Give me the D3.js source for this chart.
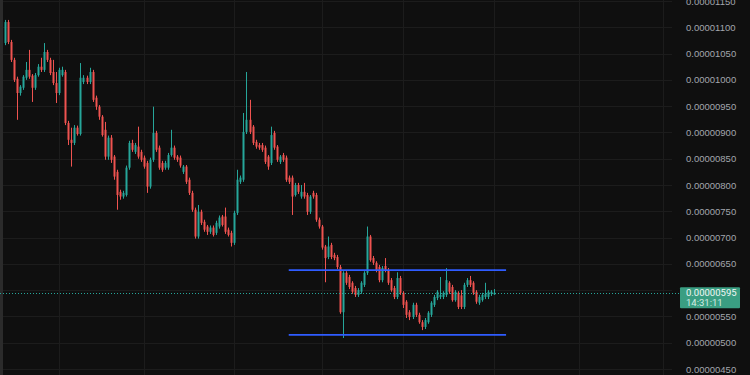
<!DOCTYPE html>
<html>
<head>
<meta charset="utf-8">
<script src="https://cdnjs.cloudflare.com/ajax/libs/d3/7.8.5/d3.min.js"></script>
<style>
  html, body { margin: 0; padding: 0; background: #0f0f0f; }
  svg { display: block; }
</style>
</head>
<body>
<svg id="chart"></svg>
<script>
// prices are in units of 1e-8 (satoshi-like), e.g. 595 -> 0.00000595
const UNIT = 1e-8

const open = [1070,1110,1072,1038,1002,975,985,1004,1019,1008,985,1009,1025,1019,1053,1038,1015,994,975,1009,
  1015,918,886,880,909,897,996,1004,996,1015,966,949,930,905,854,890,854,825,787,778,
  781,833,880,863,873,863,852,842,797,848,899,871,842,833,833,857,871,854,852,825,
  835,810,785,753,702,749,730,721,711,719,709,721,740,740,715,709,690,747,806,810,
  901,924,911,882,876,876,871,854,842,899,873,844,857,852,814,814,781,800,778,787,
  781,749,785,781,734,721,683,663,686,667,663,644,558,633,625,614,604,591,597,610,
  633,702,661,652,644,619,646,638,619,604,587,623,595,578,558,549,572,553,539,530,
  539,553,572,585,587,587,591,614,606,581,595,590,568,610,619,614,597,576,581,587,
  587,593,592]
const close = [1110,1072,1038,1000,975,987,1006,1019,1006,985,1009,1025,1019,1053,1038,1013,994,975,1019,1019,
  918,886,880,909,897,1004,1004,996,1015,962,949,930,895,854,890,848,816,781,778,785,
  833,880,867,876,854,848,835,797,848,899,867,833,829,842,857,871,852,848,837,835,
  806,785,753,702,749,728,715,711,719,705,728,738,724,711,705,690,747,810,814,901,
  924,901,880,873,871,867,844,835,895,871,848,854,848,810,806,778,800,787,787,778,
  749,778,778,734,721,681,661,683,663,661,644,558,633,614,606,597,591,600,614,633,
  702,657,652,638,619,642,638,614,600,587,623,595,572,553,549,572,553,539,530,543,
  557,576,587,597,591,595,619,597,581,597,568,568,610,619,610,595,578,587,591,593,
  597,597,595]
const high = [1114,1114,1076,1042,1006,990,1009,1034,1057,1011,1013,1030,1042,1070,1057,1042,1038,1015,1023,1025,
  1019,922,909,914,913,1032,1009,1008,1023,1019,970,952,933,920,894,895,857,829,791,789,
  837,884,886,880,911,867,856,846,852,949,903,875,846,846,861,905,875,857,856,838,
  838,814,789,757,762,753,734,724,723,723,732,742,743,757,719,713,751,829,818,937,
  1015,962,914,886,880,880,875,857,911,903,876,857,861,856,818,818,804,804,800,804,
  785,781,789,785,738,724,686,702,690,671,667,648,636,636,629,617,608,604,617,636,
  721,705,665,655,648,646,661,642,623,608,634,627,598,581,562,576,576,557,543,547,
  560,579,591,600,625,598,642,617,610,600,598,600,614,623,627,617,600,591,595,614,
  600,600,602]
const low = [1066,1068,1034,996,924,970,981,1000,1002,958,981,1006,1015,1015,1034,1009,990,956,971,1006,
  914,876,835,876,894,894,992,992,992,958,943,924,892,848,848,842,810,753,772,774,
  778,829,863,859,850,844,831,785,793,844,863,829,825,829,829,854,848,844,833,821,
  802,781,749,698,698,724,711,705,707,702,705,717,721,707,702,683,686,743,802,806,
  897,897,876,869,867,863,840,829,838,867,844,840,844,806,802,743,778,783,774,774,
  743,745,774,730,717,677,615,659,659,657,640,555,509,610,602,593,587,587,593,606,
  629,654,648,634,615,615,634,610,597,583,583,591,566,547,543,545,549,536,524,526,
  536,549,568,581,583,583,587,593,578,578,564,564,564,606,606,591,574,572,578,583,
  583,589,591]

const yTicks = [450,500,550,650,700,750,800,850,900,950,1000,1050,1100,1150]
const timeGridIdx = [18, 46, 76, 105, 132, 162, 190, 218]   // vertical grid lines, in candle index
const channelLevels = [638, 515]                             // drawn support / resistance lines
const channelSpan = [94, 166]                                // start / end candle index
const lastPrice = 595
const countdown = "14:31:11"

const width = 750, height = 375
const axisLeft = 672

const svg = d3.select("#chart")
  .attr("width", width)
  .attr("height", height)
  .style("font-family", "Roboto, 'Noto Sans', sans-serif")

svg.append("rect")
  .attr("width", width).attr("height", height)
  .attr("fill", "#0f0f0f")

const x = d3.scaleLinear().domain([0, open.length - 1]).range([5, 494])
const y = d3.scaleLinear().domain([450, 1150]).range([369, 1])

// grid
const grid = svg.append("g")
grid.selectAll("line.h")
  .data(yTicks.concat([600]))
  .enter().append("line")
    .attr("x1", 0).attr("x2", axisLeft)
    .attr("y1", d => Math.round(y(d)) + 0.5)
    .attr("y2", d => Math.round(y(d)) + 0.5)
    .attr("stroke", "#1c1c1c")
grid.selectAll("line.v")
  .data(timeGridIdx)
  .enter().append("line")
    .attr("x1", d => Math.round(x(d)) + 0.5)
    .attr("x2", d => Math.round(x(d)) + 0.5)
    .attr("y1", 0).attr("y2", height)
    .attr("stroke", "#1c1c1c")

// left border strip
svg.append("rect")
  .attr("x", 0).attr("y", 0)
  .attr("width", 3).attr("height", height)
  .attr("fill", "#2b2b2b")

// candles
const up = "#26a69a", down = "#ef5350"
const candles = svg.append("g")
const idx = d3.range(open.length)

candles.selectAll("line")
  .data(idx)
  .enter().append("line")
    .attr("x1", i => Math.round(x(i)) + 0.5)
    .attr("x2", i => Math.round(x(i)) + 0.5)
    .attr("y1", i => y(high[i]))
    .attr("y2", i => y(low[i]))
    .attr("stroke", i => close[i] >= open[i] ? up : down)
    .attr("stroke-width", 1)

candles.selectAll("rect")
  .data(idx)
  .enter().append("rect")
    .attr("x", i => Math.round(x(i)) - 0.5)
    .attr("width", 2)
    .attr("y", i => y(Math.max(open[i], close[i])))
    .attr("height", i => Math.max(1, Math.abs(y(open[i]) - y(close[i]))))
    .attr("fill", i => close[i] >= open[i] ? up : down)

// channel lines
svg.append("g").selectAll("line")
  .data(channelLevels)
  .enter().append("line")
    .attr("x1", x(channelSpan[0])).attr("x2", x(channelSpan[1]))
    .attr("y1", d => y(d)).attr("y2", d => y(d))
    .attr("stroke", "#2f5cff")
    .attr("stroke-width", 1.6)

// last price line
svg.append("line")
  .attr("x1", 0).attr("x2", 680)
  .attr("y1", Math.round(y(lastPrice)) + 0.5)
  .attr("y2", Math.round(y(lastPrice)) + 0.5)
  .attr("stroke", up)
  .attr("stroke-dasharray", "1,2")

// right price axis
const fmt = v => (v * UNIT).toFixed(8)
const yAxis = d3.axisRight(y)
  .tickValues(yTicks)
  .tickSize(0)
  .tickPadding(0)
  .tickFormat(fmt)

svg.append("g")
  .attr("transform", `translate(${axisLeft + 14},0)`)
  .call(yAxis)
  .call(g => g.select(".domain").remove())
  .call(g => g.selectAll("text")
    .attr("fill", "#a3a6ad")
    .attr("font-size", "9.5px"))

// last price tag
const tagY = y(lastPrice)
const tag = svg.append("g")
tag.append("rect")
  .attr("x", 680).attr("y", tagY - 5.5)
  .attr("width", 60).attr("height", 21)
  .attr("rx", 1)
  .attr("fill", "#3a9e82")
tag.append("text")
  .attr("x", 686).attr("y", tagY + 3.3)
  .attr("font-size", "9.5px")
  .attr("fill", "#f2f7f5")
  .text(fmt(lastPrice))
tag.append("text")
  .attr("x", 686).attr("y", tagY + 13.3)
  .attr("font-size", "9.5px")
  .attr("fill", "#d4ece4")
  .text(countdown)
</script>
</body>
</html>
